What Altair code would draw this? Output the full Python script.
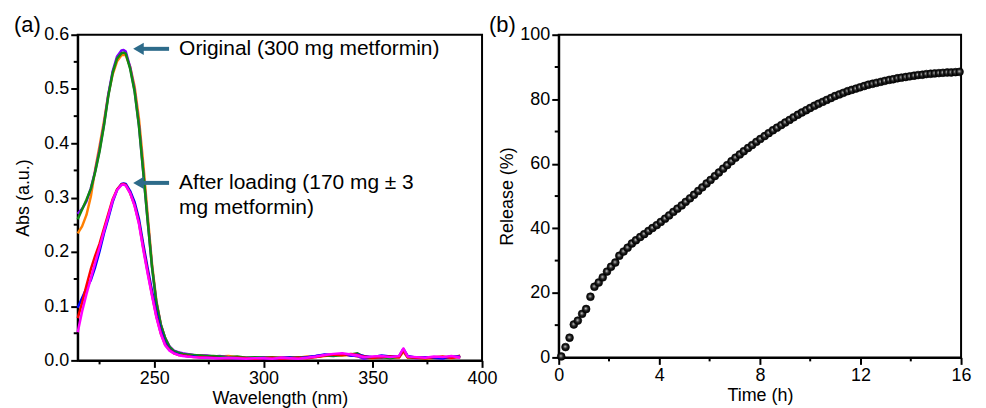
import altair as alt
import pandas as pd

# ---------------- Panel (a): UV-Vis spectra ----------------
wl_front = [215, 217, 219, 221, 223, 225, 227, 229, 231, 233, 235, 236, 237, 239, 241,
            243, 245, 247, 249, 251, 253, 255, 257, 259, 261, 263]
wl_tail = [265, 268, 271, 274, 277, 280, 284, 288, 292, 296, 300, 304, 308, 312, 316,
           320, 324, 328, 332, 336, 340, 343, 346, 350, 354, 358, 362, 364, 366, 370,
           374, 378, 382, 386, 390]
wavelength = wl_front + wl_tail

orig_orange = [0.234, 0.247, 0.268, 0.302, 0.352, 0.395, 0.440, 0.490, 0.527, 0.551, 0.562, 0.563, 0.562,
               0.541, 0.505, 0.446, 0.362, 0.268, 0.178, 0.110, 0.067, 0.041, 0.025, 0.017, 0.014, 0.012,
               0.011, 0.009, 0.009, 0.008, 0.007, 0.007, 0.008, 0.006, 0.005, 0.004,
               0.005, 0.005, 0.006, 0.004, 0.005, 0.007, 0.006, 0.008, 0.010, 0.009,
               0.010, 0.007, 0.005, 0.004, 0.007, 0.005, 0.005, 0.016, 0.005, 0.006,
               0.003, 0.005, 0.006, 0.004, 0.009]
orig_purple = [0.270, 0.279, 0.293, 0.317, 0.349, 0.388, 0.434, 0.490, 0.533, 0.560, 0.571, 0.572, 0.569,
               0.540, 0.498, 0.434, 0.347, 0.258, 0.172, 0.107, 0.066, 0.041, 0.026, 0.018, 0.015, 0.013,
               0.012, 0.010, 0.009, 0.009, 0.007, 0.008, 0.006, 0.006, 0.005, 0.005,
               0.006, 0.004, 0.005, 0.006, 0.004, 0.006, 0.008, 0.010, 0.009, 0.012,
               0.009, 0.008, 0.003, 0.006, 0.005, 0.007, 0.006, 0.018, 0.007, 0.004,
               0.006, 0.005, 0.004, 0.006, 0.008]
orig_green = [0.260, 0.278, 0.296, 0.316, 0.347, 0.385, 0.432, 0.487, 0.530, 0.556, 0.566, 0.567, 0.565,
              0.537, 0.496, 0.432, 0.346, 0.257, 0.172, 0.106, 0.066, 0.041, 0.025, 0.017, 0.014, 0.012,
              0.011, 0.010, 0.009, 0.008, 0.008, 0.007, 0.006, 0.007, 0.005, 0.006,
              0.005, 0.006, 0.004, 0.005, 0.006, 0.005, 0.007, 0.009, 0.008, 0.010,
              0.011, 0.013, 0.006, 0.005, 0.006, 0.004, 0.007, 0.020, 0.006, 0.005,
              0.004, 0.006, 0.005, 0.007, 0.006]
load_blue = [0.097, 0.115, 0.133, 0.148, 0.172, 0.201, 0.234, 0.262, 0.292, 0.314, 0.325, 0.326, 0.325,
             0.312, 0.292, 0.261, 0.214, 0.170, 0.128, 0.088, 0.055, 0.032, 0.020, 0.014, 0.011, 0.009,
             0.008, 0.007, 0.006, 0.005, 0.005, 0.004, 0.004, 0.004, 0.003, 0.004,
             0.003, 0.004, 0.004, 0.005, 0.004, 0.006, 0.008, 0.011, 0.010, 0.012,
             0.009, 0.011, 0.008, 0.006, 0.009, 0.007, 0.007, 0.021, 0.008, 0.005,
             0.006, 0.005, 0.004, 0.007, 0.006]
load_red = [0.078, 0.106, 0.138, 0.168, 0.193, 0.215, 0.243, 0.270, 0.297, 0.315, 0.324, 0.325, 0.323,
            0.308, 0.286, 0.254, 0.207, 0.163, 0.121, 0.081, 0.050, 0.029, 0.019, 0.013, 0.010, 0.009,
            0.008, 0.006, 0.006, 0.005, 0.005, 0.004, 0.004, 0.005, 0.004, 0.003,
            0.004, 0.005, 0.003, 0.004, 0.005, 0.004, 0.006, 0.009, 0.011, 0.010,
            0.012, 0.010, 0.007, 0.005, 0.006, 0.007, 0.006, 0.019, 0.006, 0.005,
            0.004, 0.006, 0.007, 0.005, 0.006]
load_magenta = [0.052, 0.090, 0.122, 0.151, 0.180, 0.208, 0.238, 0.266, 0.295, 0.314, 0.323, 0.324, 0.322,
                0.308, 0.285, 0.252, 0.204, 0.160, 0.119, 0.079, 0.049, 0.028, 0.018, 0.013, 0.010, 0.008,
                0.007, 0.006, 0.005, 0.005, 0.004, 0.004, 0.005, 0.004, 0.003, 0.004,
                0.004, 0.003, 0.005, 0.004, 0.003, 0.005, 0.007, 0.010, 0.012, 0.013,
                0.011, 0.009, 0.006, 0.007, 0.008, 0.006, 0.008, 0.022, 0.007, 0.006,
                0.005, 0.007, 0.006, 0.008, 0.005]

series_names = ["orig_orange", "orig_purple", "orig_green", "load_blue", "load_red", "load_magenta"]
series_values = [orig_orange, orig_purple, orig_green, load_blue, load_red, load_magenta]
series_colors = ["#ff8000", "#8000ff", "#118a11", "#0000ff", "#ff0000", "#ff00ff"]

rows = []
for name, vals in zip(series_names, series_values):
    for w, a in zip(wavelength, vals):
        rows.append({"series": name, "wl": w, "abs": a})
spec_df = pd.DataFrame(rows)

x_major_a = [250, 300, 350, 400]
x_minor_a = [225, 275, 325, 375]
y_major_a = [0.0, 0.1, 0.2, 0.3, 0.4, 0.5, 0.6]
y_minor_a = [0.05, 0.15, 0.25, 0.35, 0.45, 0.55]

ann_text = ["Original (300 mg metformin)", "After loading (170 mg \u00b1 3", "mg metformin)"]
ann_x = [261.4, 261.4, 261.4]
ann_y = [0.574, 0.327, 0.281]
arrow_y = [0.574, 0.327]
arrow_tail = [256.8, 256.8]
arrow_shaft_end = [244.5, 244.5]
arrow_head = [242.8, 242.8]

# ---------------- Panel (b): release ----------------
time_h = [0.10, 0.27, 0.43, 0.60, 0.76, 0.93, 1.09, 1.26, 1.42, 1.59,
          1.75, 1.92, 2.08, 2.25, 2.41, 2.58, 2.74, 2.91, 3.07, 3.24,
          3.40, 3.57, 3.73, 3.90, 4.06, 4.23, 4.39, 4.56, 4.72, 4.89,
          5.05, 5.22, 5.38, 5.55, 5.71, 5.88, 6.04, 6.21, 6.37, 6.54,
          6.70, 6.87, 7.03, 7.20, 7.36, 7.53, 7.69, 7.86, 8.02, 8.19,
          8.35, 8.52, 8.68, 8.85, 9.01, 9.18, 9.34, 9.51, 9.67, 9.84,
          10.00, 10.17, 10.33, 10.50, 10.66, 10.83, 10.99, 11.16, 11.32, 11.49,
          11.65, 11.82, 11.98, 12.15, 12.31, 12.48, 12.64, 12.81, 12.97, 13.14,
          13.30, 13.47, 13.63, 13.80, 13.96, 14.13, 14.29, 14.46, 14.62, 14.79,
          14.95, 15.12, 15.28, 15.45, 15.61, 15.78, 15.94]
release = [0.3, 3.2, 6.1, 10.2, 11.4, 13.5, 15.0, 18.8, 21.9, 23.2,
           24.8, 26.6, 28.1, 29.4, 31.5, 32.8, 34.0, 35.3, 36.3, 37.3,
           38.2, 39.2, 40.1, 41.0, 42.0, 43.0, 44.0, 45.1, 46.1, 47.1,
           48.2, 49.3, 50.4, 51.6, 52.7, 53.9, 55.0, 56.2, 57.3, 58.5,
           59.6, 60.8, 61.9, 62.9, 63.9, 64.9, 65.8, 66.8, 67.7, 68.6,
           69.5, 70.4, 71.2, 72.0, 72.8, 73.6, 74.4, 75.2, 75.9, 76.6,
           77.3, 78.0, 78.6, 79.2, 79.8, 80.4, 81.0, 81.5, 82.0, 82.5,
           82.9, 83.3, 83.7, 84.1, 84.5, 84.8, 85.1, 85.4, 85.7, 86.0,
           86.2, 86.5, 86.7, 86.9, 87.1, 87.3, 87.5, 87.6, 87.8, 87.9,
           88.0, 88.1, 88.2, 88.3, 88.3, 88.4, 88.5]

x_major_b = [0, 4, 8, 12, 16]
x_minor_b = [2, 6, 10, 14]
y_major_b = [0, 20, 40, 60, 80, 100]
y_minor_b = [10, 30, 50, 70, 90]

FONT = "Liberation Sans"
ARROW = "#2d6b8a"
W1, H1 = 406, 327
W2, H2 = 404, 324

# ---------------- build panel (a) ----------------
xs_a = alt.Scale(domain=[215, 400], nice=False, zero=False)
ys_a = alt.Scale(domain=[0, 0.6], nice=False)
xax_a = alt.Axis(values=x_major_a, title="Wavelength (nm)", titlePadding=2)
yax_a = alt.Axis(values=y_major_a, format=".1f", title="Abs (a.u.)", titlePadding=11)


def XA(field="wl"):
    return alt.X(f"{field}:Q", scale=xs_a, axis=xax_a, title="Wavelength (nm)")


def YA(field="abs"):
    return alt.Y(f"{field}:Q", scale=ys_a, axis=yax_a, title="Abs (a.u.)")


lines = alt.Chart(spec_df).mark_line(strokeWidth=2.5, strokeJoin="round").encode(
    x=XA(), y=YA(),
    color=alt.Color("series:N", scale=alt.Scale(domain=series_names, range=series_colors), legend=None),
)

minor_xa = alt.Chart(pd.DataFrame({"wl": x_minor_a})).mark_rule(color="black", strokeWidth=2).encode(
    x=XA(), y=alt.value(H1), y2=alt.value(H1 + 4))
minor_ya = alt.Chart(pd.DataFrame({"abs": y_minor_a})).mark_rule(color="black", strokeWidth=2).encode(
    y=YA(), x=alt.value(-4), x2=alt.value(0))

arrow_df = pd.DataFrame({"abs": arrow_y, "wl": arrow_tail, "wl2": arrow_shaft_end, "wlh": arrow_head})
shafts = alt.Chart(arrow_df).mark_rule(color=ARROW, strokeWidth=4).encode(
    x=XA(), x2="wl2:Q", y=YA())
heads = alt.Chart(arrow_df).transform_calculate(wl="datum.wlh").mark_point(
    shape="triangle-left", filled=True, color=ARROW, size=150, opacity=1).encode(
    x=XA(), y=YA())

ann_df = pd.DataFrame({"wl": ann_x, "abs": ann_y, "t": ann_text})
ann = alt.Chart(ann_df).mark_text(align="left", baseline="middle", font=FONT, fontSize=21,
                                  color="black").encode(x=XA(), y=YA(), text="t:N")

tag_a = alt.Chart(pd.DataFrame({"t": ["(a)"]})).mark_text(
    align="left", baseline="middle", font=FONT, fontSize=22, color="black").encode(
    x=alt.value(-64), y=alt.value(-10), text="t:N")

panel_a = alt.layer(lines, minor_xa, minor_ya, shafts, heads, ann, tag_a).properties(width=W1, height=H1)

# ---------------- build panel (b) ----------------
xs_b = alt.Scale(domain=[0, 16], nice=False, zero=False)
ys_b = alt.Scale(domain=[0, 100], nice=False)
xax_b = alt.Axis(values=x_major_b, title="Time (h)", titlePadding=2)
yax_b = alt.Axis(values=y_major_b, title="Release (%)", titlePadding=3)


def XB():
    return alt.X("t:Q", scale=xs_b, axis=xax_b, title="Time (h)")


def YB():
    return alt.Y("r:Q", scale=ys_b, axis=yax_b, title="Release (%)")


sphere = alt.RadialGradient(
    gradient="radial",
    stops=[alt.GradientStop(offset=0, color="#d8d8d8"),
           alt.GradientStop(offset=0.22, color="#7a7a7a"),
           alt.GradientStop(offset=0.5, color="#1c1c1c"),
           alt.GradientStop(offset=1, color="#000000")],
    x1=0.45, y1=0.42, r1=0, x2=0.5, y2=0.5, r2=0.55)

rel_df = pd.DataFrame({"t": time_h, "r": release})
pts = alt.Chart(rel_df).mark_point(shape="circle", filled=True, fill=sphere, stroke="#000000",
                                   strokeWidth=0.6, size=62, opacity=1).encode(x=XB(), y=YB())
minor_xb = alt.Chart(pd.DataFrame({"t": x_minor_b})).mark_rule(color="black", strokeWidth=2).encode(
    x=XB(), y=alt.value(H2), y2=alt.value(H2 + 4))
minor_yb = alt.Chart(pd.DataFrame({"r": y_minor_b})).mark_rule(color="black", strokeWidth=2).encode(
    y=YB(), x=alt.value(-4), x2=alt.value(0))
tag_b = alt.Chart(pd.DataFrame({"t": ["(b)"]})).mark_text(
    align="left", baseline="middle", font=FONT, fontSize=22, color="black").encode(
    x=alt.value(-70), y=alt.value(-10), text="t:N")

panel_b = alt.layer(pts, minor_xb, minor_yb, tag_b).properties(width=W2, height=H2)

chart = alt.hconcat(panel_a, panel_b, spacing=77, bounds="flush").properties(
    padding={"left": 5, "top": 4, "right": 5, "bottom": 5}
).configure_view(stroke="black", strokeWidth=2).configure_axis(
    labelFont=FONT, titleFont=FONT, labelFontSize=18, titleFontSize=18,
    labelColor="black", titleColor="black", titleFontWeight="normal",
    domainColor="black", domainWidth=2, tickColor="black", tickWidth=2, tickSize=7,
    labelPadding=2, labelFlush=False, grid=False
)

chart.save("out.html", embed_options={"renderer": "svg", "actions": False})
